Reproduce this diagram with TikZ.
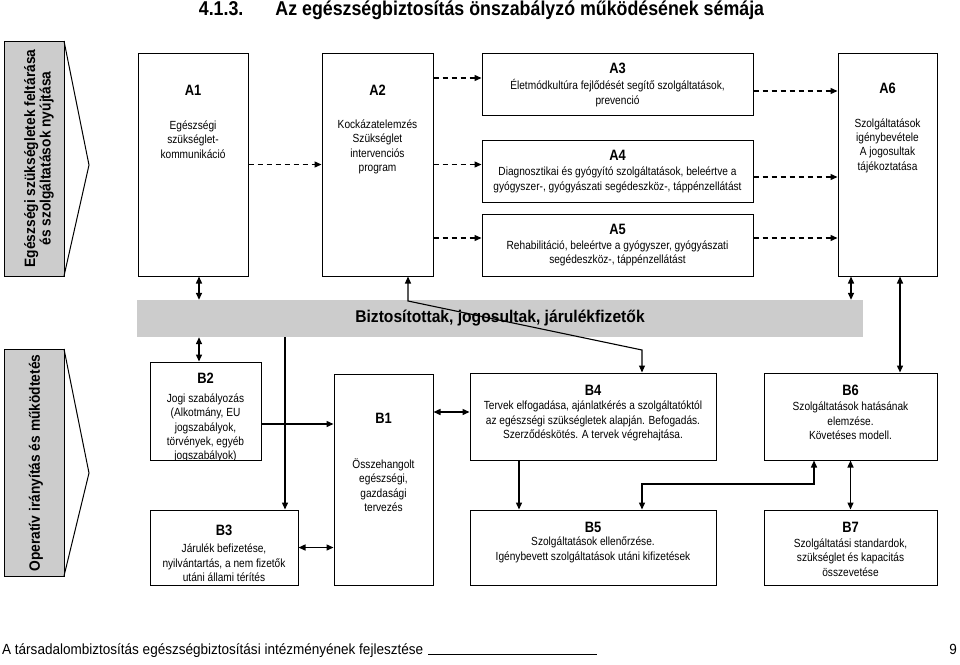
\documentclass[tikz,border=0pt]{standalone}
\usepackage{fontspec}
\setmainfont{Liberation Sans}[FakeStretch=0.86]
\newfontfamily\wfont{Liberation Sans}[FakeStretch=0.92]
\newfontfamily\tfont{Liberation Sans}[FakeStretch=0.89]
\usetikzlibrary{arrows.meta,calc}
\begin{document}
\begin{tikzpicture}[x=1pt,y=-1pt,
  box/.style={draw,line width=1pt,inner sep=0pt},
  hd/.style={font=\fontsize{15}{17}\selectfont\bfseries,inner sep=0pt},
  tx/.style={font=\fontsize{11.8}{14.4}\selectfont,align=center,inner sep=0pt},
  ar/.style={line width=1.4pt,-{Triangle[length=7pt,width=6pt]}},
  dar/.style={line width=1.4pt,{Triangle[length=7pt,width=6pt]}-{Triangle[length=7pt,width=6pt]}},
  dsh/.style={line width=1.3pt,dash pattern=on 5pt off 4pt,-{Triangle[length=7pt,width=6pt]}},
  vt/.style={font=\wfont\fontsize{15}{15.5}\selectfont\bfseries,align=center,rotate=90,inner sep=0pt}
]
\useasboundingbox (0,0) rectangle (960,664);

% title
\node[font=\tfont\fontsize{20}{22}\selectfont\bfseries,inner sep=0pt] (title) at (481.5,10) {4.1.3.\hspace{32pt}Az egészségbiztosítás önszabályzó működésének sémája};

% left arrows
\draw[line width=1pt,fill=gray!40] (4,41) rectangle (64,276);
\draw[line width=1pt] (64,41) -- (89,165) -- (64,276);
\node[vt] (lt) at (39,158.5) {Egészségi szükségletek feltárása\\és szolgáltatások nyújtása};
\draw[line width=1pt,fill=gray!40] (4,349) rectangle (64,576);
\draw[line width=1pt] (64,349) -- (89,473) -- (64,576);
\node[vt] (lb) at (36,463) {Operatív irányítás és működtetés};

% A boxes
\node[box,minimum width=110pt,minimum height=223pt] (A1) at (193,164.5) {};
\node[hd] (A1h) at (193,90) {A1};
\node[tx] (A1t) at (193,139.5) {Egészségi\\szükséglet-\\kommunikáció};

\node[box,minimum width=111pt,minimum height=223pt] (A2) at (377.5,164.5) {};
\node[hd] (A2h) at (377.5,90) {A2};
\node[tx] (A2t) at (377.5,147) {Kockázatelemzés\\Szükséglet\\intervenciós\\program};

\node[box,minimum width=271pt,minimum height=62pt] (A3) at (617.5,84) {};
\node[hd] (A3h) at (617.5,68) {A3};
\node[tx] (A3t) at (617.5,93) {Életmódkultúra fejlődését segítő szolgáltatások,\\prevenció};

\node[box,minimum width=271pt,minimum height=62pt] (A4) at (617.5,171) {};
\node[hd] (A4h) at (617.5,155) {A4};
\node[tx] (A4t) at (617.5,180) {Diagnosztikai és gyógyító szolgáltatások, beleértve a\\gyógyszer-, gyógyászati segédeszköz-, táppénzellátást};

\node[box,minimum width=271pt,minimum height=62pt] (A5) at (617.5,245) {};
\node[hd] (A5h) at (617.5,229) {A5};
\node[tx] (A5t) at (617.5,253.5) {Rehabilitáció, beleértve a gyógyszer, gyógyászati\\segédeszköz-, táppénzellátást};

\node[box,minimum width=99pt,minimum height=223pt] (A6) at (887.5,164.5) {};
\node[hd] (A6h) at (887.5,88) {A6};
\node[tx] (A6t) at (887.5,145.5) {Szolgáltatások\\igénybevétele\\A jogosultak\\tájékoztatása};

% bar
\node[fill=gray!40,inner sep=0pt,minimum width=726pt,minimum height=37pt] (bar) at (500,318.5) {};
\node[font=\wfont\fontsize{17}{19}\selectfont\bfseries,inner sep=0pt] (bart) at (500,318.5) {Biztosítottak, jogosultak, járulékfizetők};

% B boxes
\node[box,minimum width=111pt,minimum height=98pt] (B2) at (205.5,411) {};
\node[hd] (B2h) at (205.5,378) {B2};
\begin{scope}
\clip (150,362) rectangle (261,459.5);
\node[tx] (B2t) at (205.5,428) {Jogi szabályozás\\(Alkotmány, EU\\jogszabályok,\\törvények, egyéb\\jogszabályok)};
\end{scope}

\node[box,minimum width=99pt,minimum height=211pt] (B1) at (383.5,479.5) {};
\node[hd] (B1h) at (383.5,418) {B1};
\node[tx] (B1t) at (383.5,485) {Összehangolt\\egészségi,\\gazdasági\\tervezés};

\node[box,minimum width=148pt,minimum height=75pt] (B3) at (224,547.5) {};
\node[hd] (B3h) at (224,530) {B3};
\node[tx] (B3t) at (224,563) {Járulék befizetése,\\nyilvántartás, a nem fizetők\\utáni állami térítés};

\node[box,minimum width=246pt,minimum height=87pt] (B4) at (593,416.5) {};
\node[hd] (B4h) at (593,390) {B4};
\node[tx] (B4t) at (593,421) {Tervek elfogadása, ajánlatkérés a szolgáltatóktól\\az egészségi szükségletek alapján. Befogadás.\\Szerződéskötés. A tervek végrehajtása.};

\node[box,minimum width=246pt,minimum height=75pt] (B5) at (593,547.5) {};
\node[hd] (B5h) at (593,527) {B5};
\node[tx] (B5t) at (593,550) {Szolgáltatások ellenőrzése.\\Igénybevett szolgáltatások utáni kifizetések};

\node[box,minimum width=173pt,minimum height=87pt] (B6) at (850.5,416.5) {};
\node[hd] (B6h) at (850.5,390) {B6};
\node[tx] (B6t) at (850.5,421) {Szolgáltatások hatásának\\elemzése.\\Követéses modell.};

\node[box,minimum width=173pt,minimum height=75pt] (B7) at (850.5,547.5) {};
\node[hd] (B7h) at (850.5,527) {B7};
\node[tx] (B7t) at (850.5,557.5) {Szolgáltatási standardok,\\szükséglet és kapacitás\\összevetése};

% dashed connectors
\draw[dsh] (A1.east) -- (A2.west);
\draw[dsh] ([yshift=86.5pt]A2.east) coordinate (d1) -- (d1 -| A3.west);
\draw[dsh] (A2.east) -- (A2.east -| A4.west);
\draw[dsh] ([yshift=-73.5pt]A2.east) coordinate (d3) -- (d3 -| A5.west);
\draw[dsh] ([yshift=-7pt]A3.east) coordinate (d4) -- (d4 -| A6.west);
\draw[dsh] ([yshift=-6pt]A4.east) coordinate (d5) -- (d5 -| A6.west);
\draw[dsh] ([yshift=7pt]A5.east) coordinate (d6) -- (d6 -| A6.west);

% solid connectors
\draw[dar] ([xshift=6pt]A1.south) coordinate (s1) -- (s1 |- bar.north);
\draw[dar] (s1 |- bar.south) -- (s1 |- B2.north);
\coordinate (k1) at (408,301);
\coordinate (k2) at (642,350);
\draw[dar,line width=1.1pt] (k1 |- A2.south) -- (k1) -- (k2) -- (k2 |- B4.north);
\draw[dar] ([xshift=-36.5pt]A6.south) coordinate (s2) -- (s2 |- bar.north);
\draw[dar] ([xshift=12.5pt]A6.south) coordinate (s3) -- (s3 |- B6.north);
\coordinate (k3) at (285,337);
\draw[ar] (k3 |- bar.south) -- (k3 |- B3.north);
\draw[ar] ([yshift=-13pt]B2.east) coordinate (s4) -- (s4 -| B1.west);
\draw[dar] (B3.east) -- (B3.east -| B1.west);
\draw[dar] ([yshift=4.5pt]B4.west) coordinate (s5) -- (s5 -| B1.east);
\draw[ar] ([xshift=-74pt]B4.south) coordinate (s6) -- (s6 |- B5.north);
\coordinate (k4) at (642,484);
\draw[dar] ([xshift=-36.5pt]B6.south) coordinate (s7) -- (s7 |- k4) -- (k4) -- (k4 |- B5.north);
\draw[dar] (B6.south) -- (B7.north);

% footer
\node[font=\wfont\fontsize{14.7}{16}\selectfont,inner sep=0pt,anchor=base west] (foot) at (2,654) {A társadalombiztosítás egészségbiztosítási intézményének fejlesztése};
\coordinate (f1) at (597,654);
\draw[line width=0.8pt] ([xshift=5pt]foot.base east) -- (f1);
\node[font=\wfont\fontsize{14.7}{16}\selectfont,inner sep=0pt,anchor=base] (pg) at (953,654) {9};
\end{tikzpicture}
\end{document}
